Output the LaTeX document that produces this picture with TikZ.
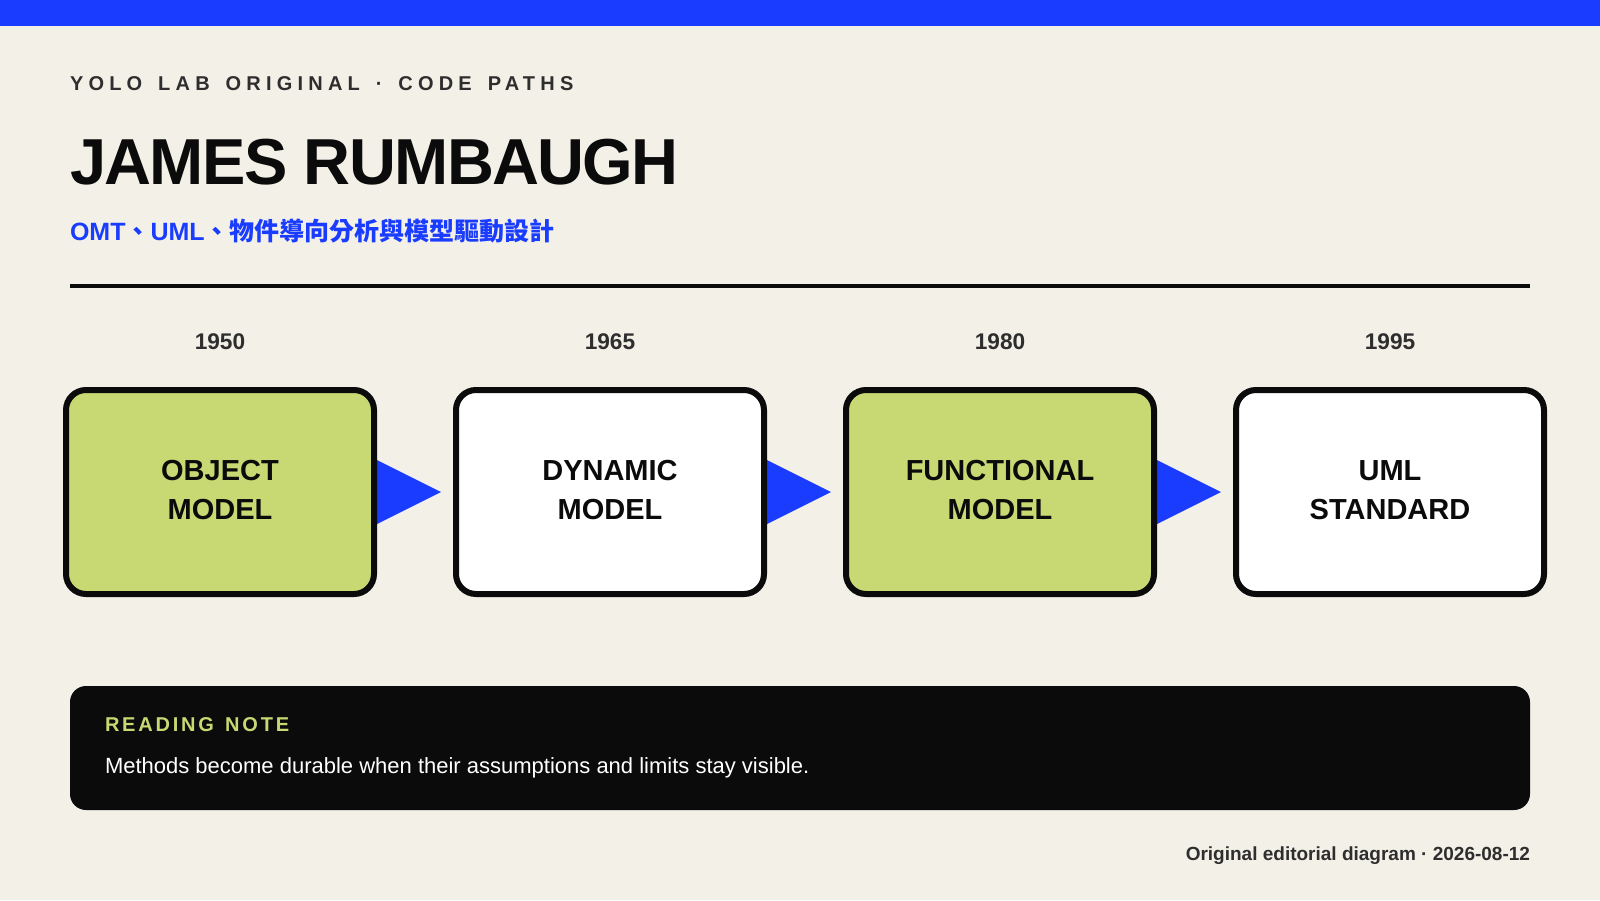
\documentclass[tikz,border=0pt]{standalone}
\usepackage{fontspec}
\setmainfont{Liberation Sans}
\newfontfamily\cjk{Noto Sans CJK TC}
\newfontfamily\kickerfont{Liberation Sans}[LetterSpace=26]
\newfontfamily\notefont{Liberation Sans}[LetterSpace=14]
\newfontfamily\titlefont{Liberation Sans}[LetterSpace=-2.5]
\usetikzlibrary{calc}
\definecolor{bg}{HTML}{F3F0E8}
\definecolor{accent}{HTML}{1A3CFF}
\definecolor{lime}{HTML}{C8D873}
\definecolor{ink}{HTML}{0B0B0B}
\definecolor{graytext}{HTML}{2E2E2E}
\newcommand{\kgap}{\hspace{3.9pt}}
\newcommand{\ngap}{\hspace{2.1pt}}
\tikzset{
  boxbase/.style={draw=ink, line width=4.5pt, rounded corners=15pt,
    minimum width=231pt, minimum height=153pt, align=center, text depth=3pt,
    font=\bfseries\fontsize{21.75}{29.25}\selectfont, text=ink},
  greenbox/.style={boxbase, fill=lime},
  whitebox/.style={boxbase, fill=white},
  yearlbl/.style={anchor=base, font=\bfseries\fontsize{17}{20}\selectfont, text=graytext},
  pointer/.style={fill=accent},
}
\begin{document}
\begin{tikzpicture}[x=0.75pt,y=-0.75pt, every node/.style={inner sep=0pt, outer sep=0pt}]
\fill[bg] (0,0) rectangle (1600,900);
\useasboundingbox (0,0) rectangle (1600,900);
\fill[accent] (0,0) rectangle (1600,25.5);

\node[anchor=base west, text=graytext] (kicker) at (70,90)
  {\kickerfont\bfseries\fontsize{15}{18}\selectfont YOLO\kgap{} LAB\kgap{} ORIGINAL\kgap{} ·\kgap{} CODE\kgap{} PATHS};
\node[anchor=base west, text=ink] (title) at (70,184)
  {\titlefont\bfseries\fontsize{48.75}{58}\selectfont JAMES RUMBAUGH};
\node[anchor=base west, text=accent] (subtitle) at (70,240)
  {\bfseries\fontsize{18.75}{22}\selectfont OMT{\cjk\bfseries 、}UML{\cjk\bfseries 、物件導向分析與模型驅動設計}};

\coordinate (ruleL) at (70,285.5);
\coordinate (ruleR) at (1530,285.5);
\draw[ink, line width=3pt] (ruleL) -- (ruleR);

\node[yearlbl] (y1) at (220,349) {1950};
\node[yearlbl] (y2) at (610,349) {1965};
\node[yearlbl] (y3) at (1000,349) {1980};
\node[yearlbl] (y4) at (1390,349) {1995};

\coordinate (c1) at (220,492);
\coordinate (c2) at (610,492);
\coordinate (c3) at (1000,492);
\fill[pointer] ($(c1)+(154,-33.5)$) -- ($(c1)+(221,0)$) -- ($(c1)+(154,33.5)$) -- cycle;
\fill[pointer] ($(c2)+(154,-33.5)$) -- ($(c2)+(221,0)$) -- ($(c2)+(154,33.5)$) -- cycle;
\fill[pointer] ($(c3)+(154,-33.5)$) -- ($(c3)+(221,0)$) -- ($(c3)+(154,33.5)$) -- cycle;

\node[greenbox] (b1) at (c1) {OBJECT\\MODEL};
\node[whitebox] (b2) at (c2) {DYNAMIC\\MODEL};
\node[greenbox] (b3) at (c3) {FUNCTIONAL\\MODEL};
\node[whitebox] (b4) at (1390,492) {UML\\STANDARD};

\node[fill=ink, rounded corners=12pt, minimum width=1095pt, minimum height=93pt, anchor=north west] (note) at (70,686) {};
\node[anchor=base west, text=lime] (notehead) at (105,731)
  {\notefont\bfseries\fontsize{15}{18}\selectfont READING\ngap{} NOTE};
\node[anchor=base west, text=white] (notebody) at (105,773.5)
  {\fontsize{16.5}{20}\selectfont Methods become durable when their assumptions and limits stay visible.};

\node[anchor=base east, text=graytext] (footer) at (1530,860)
  {\bfseries\fontsize{14.25}{18}\selectfont Original editorial diagram · 2026-08-12};
\end{tikzpicture}
\end{document}
